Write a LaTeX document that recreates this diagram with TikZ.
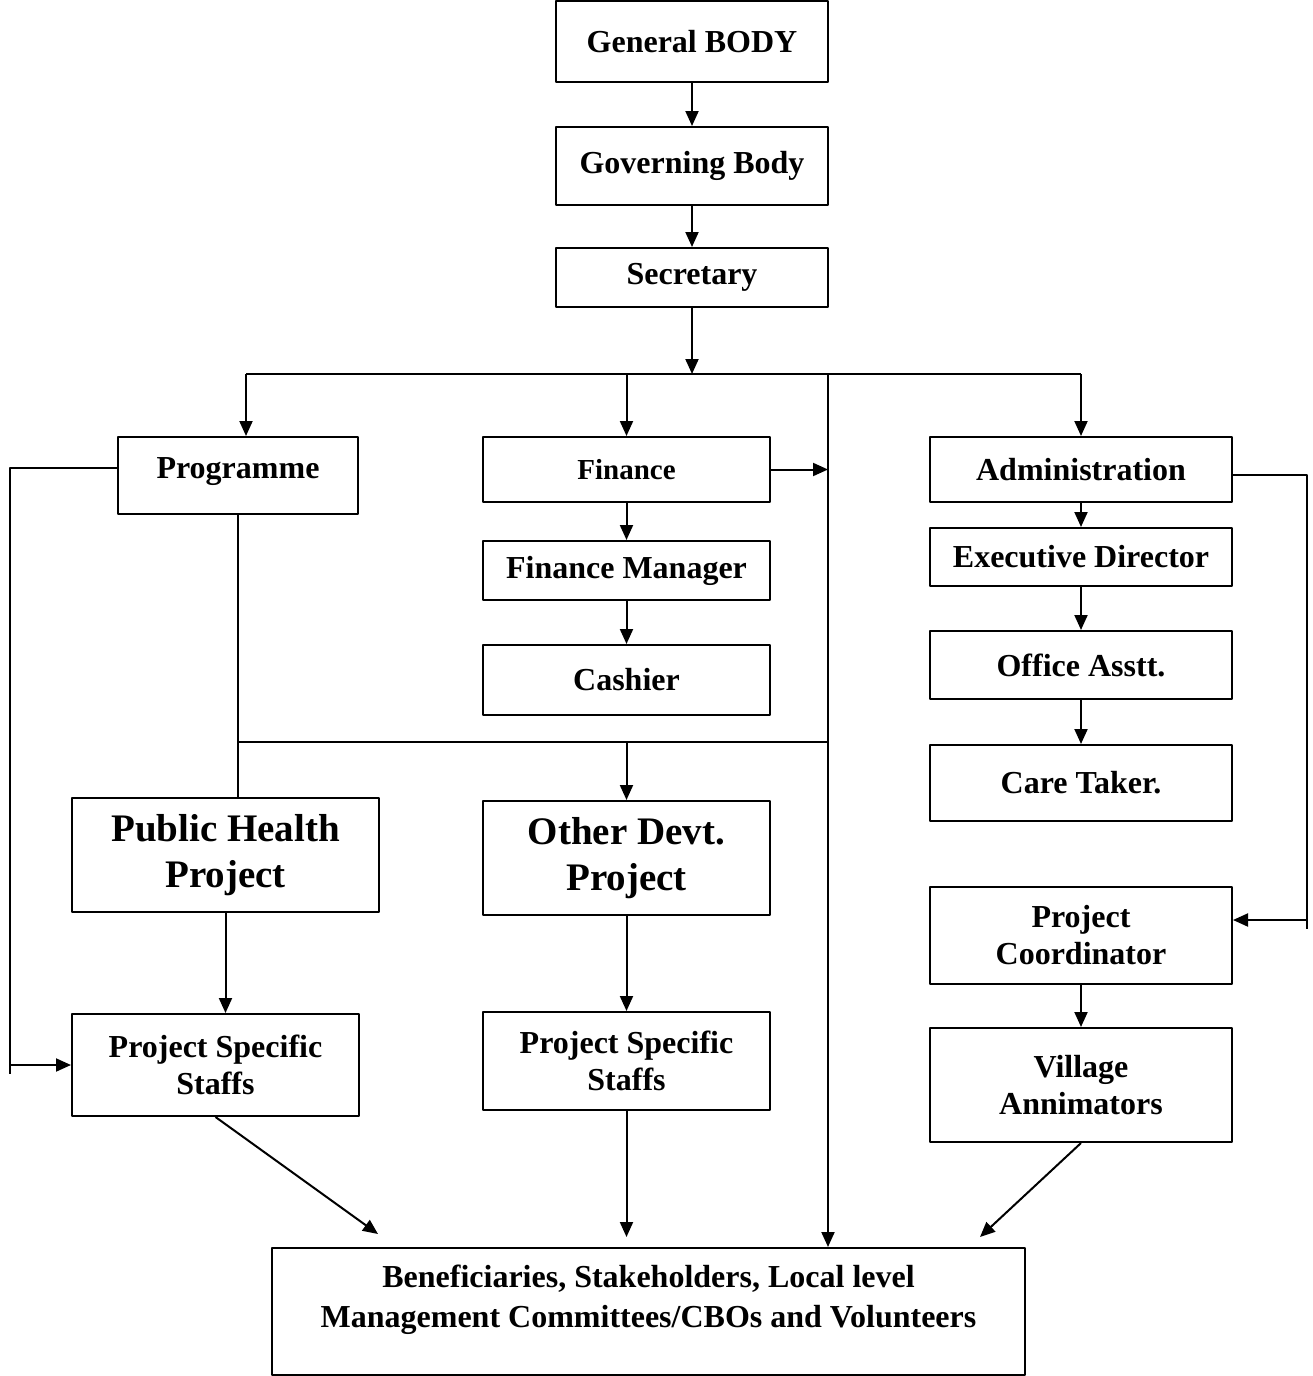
\documentclass[tikz,border=0pt]{standalone}
\usepackage{fontspec}
\setmainfont{Liberation Serif}
\usetikzlibrary{arrows.meta}

\begin{document}
\begin{tikzpicture}[x=0.5pt, y=-0.5pt, line join = round,
  box/.style={draw, line width=1pt, inner sep=0pt, align=center,
    font=\bfseries\fontsize{16}{18.5}\selectfont},
  bigbox/.style={box, font=\bfseries\fontsize{19.5}{23}\selectfont},
  arr/.style={-{Triangle[length=7.5pt,width=6.5pt]}, line width=1pt},
  wire/.style={line width=1pt}]

\useasboundingbox (0,0) rectangle (1312,1376);

% top of the chain
\node[box, minimum width=136pt, minimum height=40.5pt] (genbody) at (692,41.5) {General BODY};
\node[box, minimum width=136pt, minimum height=39pt] (govbody) at (692,166) {Governing Body};
\node[box, minimum width=136pt, minimum height=29.5pt] (secretary) at (692,277.5) {Secretary};

% three wings
\node[box, minimum width=120pt, minimum height=38.5pt, text depth=7pt] (programme) at (238,475.5) {Programme};
\node[box, minimum width=143.5pt, minimum height=32.5pt, font=\bfseries\fontsize{14.5}{17}\selectfont] (finance) at (626.5,469.5) {Finance};
\node[box, minimum width=143.5pt, minimum height=29.5pt] (finmgr) at (626.5,570.5) {Finance Manager};
\node[box, minimum width=143.5pt, minimum height=35pt] (cashier) at (626.5,680) {Cashier};
\node[box, minimum width=151pt, minimum height=32.5pt] (admin) at (1081,469.5) {Administration};
\node[box, minimum width=151pt, minimum height=29pt] (execdir) at (1081,557) {Executive Director};
\node[box, minimum width=151pt, minimum height=34pt] (officeasst) at (1081,665) {Office Asstt.};
\node[box, minimum width=151pt, minimum height=38pt] (caretaker) at (1081,783) {Care Taker.};

% projects and staff
\node[bigbox, minimum width=153.5pt, minimum height=57pt] (pubhealth) at (225.5,855) {Public Health\\Project};
\node[bigbox, minimum width=143.5pt, minimum height=57pt] (otherdevt) at (626.5,858) {Other Devt.\\Project};
\node[box, minimum width=143.5pt, minimum height=51pt] (staffA) at (215.5,1065) {Project Specific\\Staffs};
\node[box, minimum width=143.5pt, minimum height=49pt] (staffB) at (626.5,1061) {Project Specific\\Staffs};
\node[box, minimum width=151pt, minimum height=48.5pt] (projcoord) at (1081,935.5) {Project\\Coordinator};
\node[box, minimum width=151pt, minimum height=57pt] (village) at (1081,1085) {Village\\Annimators};

\node[box, minimum width=376.5pt, minimum height=63.5pt, text depth=15pt,
  font=\bfseries\fontsize{16}{20}\selectfont] (benef) at (648.5,1311.5)
  {Beneficiaries, Stakeholders, Local level\\Management Committees/CBOs and Volunteers};

% bus lines and rails
\coordinate (busL) at (246,374);
\coordinate (busM) at (828,374);
\coordinate (busR) at (1081,374);
\coordinate (midbus) at (238,742);
\coordinate (leftrail) at (10,0);
\coordinate (rightrail) at (1307,0);
\coordinate (progout) at ([yshift=3.75pt]programme.west);
\coordinate (adminout) at ([yshift=-2.75pt]admin.east);
\coordinate (coordin) at ([yshift=7.75pt]projcoord.east);
\coordinate (inA) at (378,1234); % staff A into beneficiaries
\coordinate (inB) at (626.5,1237); % staff B into beneficiaries
\coordinate (inC) at (980,1237); % animators into beneficiaries

\draw[arr] (genbody) -- (govbody);
\draw[arr] (govbody) -- (secretary);
\draw[arr] (secretary) -- (secretary.south |- busL);
\draw[wire] (busL) -- (busR);
\draw[arr] (busL) -- (busL |- programme.north);
\draw[arr] (busL -| finance.north) -- (finance.north);
\draw[arr] (busR) -- (admin.north);
\draw[arr] (busM) -- (busM |- benef.north);

\draw[arr] (finance) -- (finmgr);
\draw[arr] (finmgr) -- (cashier);
\draw[arr] (finance.east) -- (finance.east -| busM);

\draw[arr] (admin) -- (execdir);
\draw[arr] (execdir) -- (officeasst);
\draw[arr] (officeasst) -- (caretaker);

\draw[wire] (programme.south) -- (programme.south |- pubhealth.north);
\draw[wire] (midbus) -- (midbus -| busM);
\draw[arr] (midbus -| otherdevt.north) -- (otherdevt.north);

\draw[arr] (progout) -- (progout -| leftrail) -- (leftrail |- staffA.west) -- (staffA.west);
\draw[wire] (leftrail |- staffA.west) -- ++(0,9);
\draw[arr] (adminout) -- (adminout -| rightrail) -- (rightrail |- coordin) -- (coordin);
\draw[wire] (rightrail |- coordin) -- ++(0,9);

\draw[arr] (pubhealth.south) -- (pubhealth.south |- staffA.north);
\draw[arr] (otherdevt) -- (staffB);
\draw[arr] (projcoord) -- (village);

\draw[arr] (staffA.south) -- (inA);
\draw[arr] (staffB) -- (inB);
\draw[arr] (village.south) -- (inC);

\end{tikzpicture}
\end{document}
